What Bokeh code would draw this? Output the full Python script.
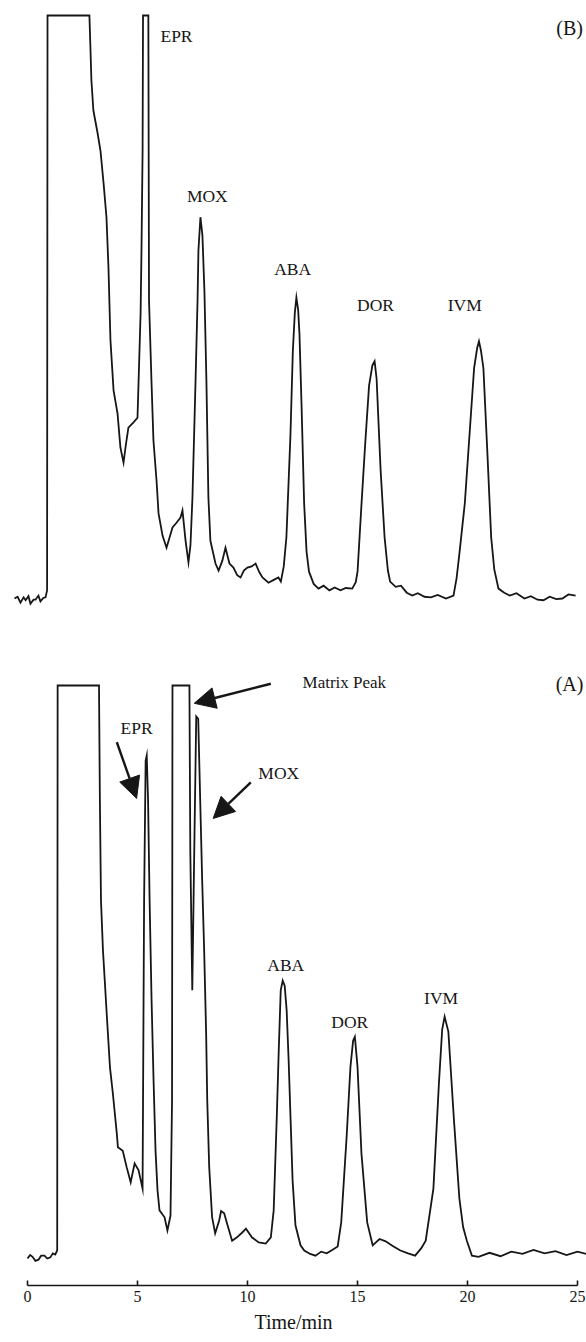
from bokeh.plotting import figure
from bokeh.layouts import column
from bokeh.models import Range1d, FixedTicker, Arrow, NormalHead, ColumnDataSource
from bokeh.core.properties import value
from bokeh.embed import file_html
from bokeh.resources import INLINE

# ---------------- Panel (B) ----------------
b_time = [0.00, 0.14, 0.27, 0.41, 0.50, 0.63, 0.72, 0.86, 0.95, 1.08, 1.17, 1.30, 1.40, 1.47, 1.49,
          3.38, 3.43, 3.47, 3.56, 3.75, 3.88, 4.02, 4.15, 4.24, 4.33, 4.47, 4.65, 4.78, 4.92, 5.03,
          5.14, 5.37, 5.55, 5.60, 5.69, 5.73, 5.78, 5.80, 6.04, 6.07, 6.18, 6.27, 6.41, 6.50, 6.68,
          6.86, 7.00, 7.13, 7.31, 7.49, 7.58, 7.72, 7.85, 7.94, 8.03, 8.17, 8.26, 8.30, 8.39, 8.48,
          8.57, 8.66, 8.75, 8.84, 9.07, 9.21, 9.38, 9.52, 9.70, 9.88, 10.05, 10.20, 10.35, 10.51,
          10.70, 10.88, 11.05, 11.19, 11.46, 11.70, 11.91, 12.02, 12.15, 12.27, 12.45, 12.56, 12.65,
          12.72, 12.80, 12.86, 12.95, 13.07, 13.18, 13.29, 13.50, 13.72, 13.95, 14.21, 14.45, 14.71,
          14.95, 15.24, 15.40, 15.48, 15.66, 15.83, 16.00, 16.15, 16.25, 16.34, 16.52, 16.70, 16.85,
          16.95, 17.20, 17.44, 17.70, 17.95, 18.20, 18.50, 18.79, 19.10, 19.47, 19.81, 19.95, 20.07,
          20.32, 20.58, 20.74, 20.88, 20.96, 21.05, 21.16, 21.34, 21.51, 21.65, 21.84, 22.10, 22.35,
          22.65, 23.01, 23.30, 23.60, 23.87, 24.15, 24.45, 24.72, 25.00, 25.32]
b_signal = [0.0, 0.3, -0.7, 0.2, -0.3, 0.4, -0.9, -0.2, -0.2, 0.5, -0.5, 0.1, 0.2, 1.4, 100,
            100, 94.0, 88.9, 83.7, 79.8, 76.8, 71.2, 65.4, 56.8, 44.3, 35.7, 31.7, 25.9, 23.3, 26.5,
            29.3, 30.2, 31.0, 37.4, 48.9, 59.7, 76.8, 100, 100, 51.1, 37.4, 27.1, 20.2, 14.6, 10.8,
            8.7, 10.5, 12.2, 13.0, 13.9, 15.1, 9.9, 6.2, 9.1, 17.3, 37.4, 51.1, 59.7, 65.4, 62.3,
            52.8, 37.4, 17.3, 9.9, 6.0, 4.8, 6.5, 8.7, 6.0, 5.3, 4.0, 3.6, 4.8, 5.3,
            5.5, 6.0, 4.5, 3.6, 2.7, 3.2, 3.6, 2.9, 5.5, 10.5, 27.8, 42.4, 49.0,
            51.6, 49.5, 45.3, 33.6, 16.3, 8.0, 4.6, 2.5, 1.7, 2.2, 1.4, 1.9, 1.4,
            1.8, 1.7, 2.8, 4.6, 16.3, 26.8, 36.5, 40.0, 40.7, 37.7, 22.1, 10.5, 4.8,
            2.9, 2.0, 2.2, 1.0, 0.5, 0.9, 0.3, 0.2, 0.6, 0.0, 0.5, 3.5, 7.5,
            16.3, 30.7, 39.5, 43.0, 44.1, 42.5, 39.5, 24.9, 10.5, 5.0, 1.7, 1.0, 0.5,
            0.9, 0.0, 0.4, -0.2, -0.3, 0.3, -0.1, 0.0, 0.7, 0.5]
b_label_text = ["EPR", "MOX", "ABA", "DOR", "IVM"]
b_label_t = [7.31, 8.70, 12.55, 16.29, 20.32]
b_label_v = [96.5, 69.1, 56.6, 50.3, 50.3]
b_panel_text = ["(B)"]
b_panel_t = [25.05]
b_panel_v = [97.8]

# ---------------- Panel (A) ----------------
a_time = [0.00, 0.12, 0.23, 0.36, 0.50, 0.62, 0.77, 0.90, 1.04, 1.15, 1.26, 1.35, 1.37,
          3.25, 3.29, 3.34, 3.43, 3.52, 3.61, 3.75, 3.88, 4.06, 4.11, 4.33, 4.51, 4.69, 4.87,
          5.05, 5.23, 5.30, 5.37, 5.42, 5.48, 5.55, 5.64, 5.73, 5.82, 5.91, 6.00, 6.23, 6.36,
          6.50, 6.57, 6.59, 7.36, 7.40, 7.49, 7.58, 7.67, 7.76, 7.85, 7.94, 8.03, 8.12, 8.17,
          8.26, 8.39, 8.53, 8.71, 8.80, 8.94, 9.07, 9.30, 9.52, 9.75, 9.93, 10.20, 10.51, 10.83,
          11.06, 11.19, 11.33, 11.42, 11.51, 11.60, 11.69, 11.78, 11.87, 11.96, 12.05, 12.18,
          12.41, 12.58, 12.85, 13.09, 13.35, 13.60, 13.85, 14.10, 14.26, 14.51, 14.68, 14.80,
          14.88, 15.00, 15.18, 15.44, 15.69, 16.00, 16.28, 16.60, 16.95, 17.30, 17.62, 17.90,
          18.10, 18.45, 18.70, 18.85, 18.96, 19.13, 19.38, 19.63, 19.80, 19.97, 20.20, 20.50,
          21.00, 21.50, 22.00, 22.50, 23.00, 23.50, 24.00, 24.50, 25.00, 25.40]
a_signal = [0.0, 0.6, 0.3, -0.4, -0.2, 0.5, 0.5, 0.0, 0.2, 0.9, 0.7, 1.4, 100,
            100, 80.0, 62.5, 53.8, 48.0, 42.1, 33.3, 28.8, 21.8, 19.4, 18.8, 15.9, 13.3, 16.6,
            15.4, 12.2, 62.5, 86.9, 87.8, 80.0, 62.5, 45.0, 31.1, 18.8, 11.9, 8.4, 7.2, 4.9,
            7.5, 27.6, 100, 100, 71.2, 46.8, 71.2, 94.6, 94.2, 80.0, 66.0, 53.8, 39.3, 27.6,
            15.9, 7.2, 4.4, 6.6, 8.3, 7.9, 6.1, 3.1, 3.7, 4.5, 5.2, 3.7, 2.8, 2.6,
            3.7, 8.4, 24.6, 36.3, 46.8, 48.5, 47.6, 43.3, 34.6, 24.1, 13.6, 5.8,
            2.3, 1.4, 0.8, 0.5, 1.2, 0.9, 1.5, 2.1, 6.3, 21.5, 33.5, 38.0,
            38.7, 33.5, 18.3, 6.3, 2.3, 3.4, 3.0, 2.2, 1.4, 0.9, 0.5, 1.8,
            3.1, 12.2, 30.5, 40.0, 42.2, 39.6, 24.4, 10.5, 5.5, 3.1, 0.5, 0.3,
            1.0, 0.4, 1.2, 0.8, 1.5, 0.9, 1.3, 0.6, 1.2, 0.8]
a_label_text = ["EPR", "MOX", "ABA", "DOR", "IVM"]
a_label_t = [4.96, 11.42, 11.74, 14.65, 18.80]
a_label_v = [92.5, 84.8, 51.3, 41.2, 45.5]
a_note_text = ["Matrix Peak"]
a_note_t = [14.40]
a_note_v = [100.5]
a_panel_text = ["(A)"]
a_panel_t = [24.64]
a_panel_v = [100.3]
a_arrow_t0 = [4.06, 11.06, 10.15]
a_arrow_v0 = [90.1, 100.3, 83.1]
a_arrow_t1 = [4.96, 7.58, 8.44]
a_arrow_v1 = [80.3, 96.9, 76.8]

x_ticks = [0, 5, 10, 15, 20, 25]
x_title = "Time/min"

FONT = value("Liberation Serif")
INK = "#161616"

# ---------------- figure (B) ----------------
pB = figure(width=586, height=632, output_backend="svg", toolbar_location=None,
            x_range=Range1d(-0.632, 25.812), y_range=Range1d(-5.83, 102.57),
            x_axis_location=None, y_axis_location=None, min_border=0,
            outline_line_color=None, background_fill_color="white", border_fill_color="white")
pB.grid.grid_line_color = None
pB.line(b_time, b_signal, line_color=INK, line_width=1.8, line_join="miter")
pB.text(b_label_t, b_label_v, text=b_label_text, text_font=FONT, text_font_size="17.5px",
        text_align="center", text_baseline="middle", text_color=INK)
pB.text(b_panel_t, b_panel_v, text=b_panel_text, text_font=FONT, text_font_size="20px",
        text_align="center", text_baseline="middle", text_color=INK)

# ---------------- figure (A) ----------------
pA = figure(width=586, height=709, output_backend="svg", toolbar_location=None,
            x_range=Range1d(-1.2273, 25.409), y_range=Range1d(-4.71, 109.25),
            y_axis_location=None, min_border=0, min_border_bottom=56,
            outline_line_color=None, background_fill_color="white", border_fill_color="white")
pA.grid.grid_line_color = None
pA.line(a_time, a_signal, line_color=INK, line_width=1.8, line_join="miter")
pA.text(a_label_t, a_label_v, text=a_label_text, text_font=FONT, text_font_size="17.5px",
        text_align="center", text_baseline="middle", text_color=INK)
pA.text(a_note_t, a_note_v, text=a_note_text, text_font=FONT, text_font_size="17px",
        text_align="center", text_baseline="middle", text_color=INK)
pA.text(a_panel_t, a_panel_v, text=a_panel_text, text_font=FONT, text_font_size="20px",
        text_align="center", text_baseline="middle", text_color=INK)

arrow_src = ColumnDataSource(dict(x0=a_arrow_t0, y0=a_arrow_v0, x1=a_arrow_t1, y1=a_arrow_v1))
pA.add_layout(Arrow(end=NormalHead(size=21, fill_color=INK, line_color=INK, line_width=1),
                    x_start="x0", y_start="y0", x_end="x1", y_end="y1", source=arrow_src,
                    line_color=INK, line_width=2.4))

ax = pA.xaxis[0]
ax.ticker = FixedTicker(ticks=x_ticks)
ax.bounds = (x_ticks[0], x_ticks[-1])
ax.axis_line_color = INK
ax.axis_line_width = 1.6
ax.major_tick_in = 5
ax.major_tick_out = 0
ax.major_tick_line_color = INK
ax.major_tick_line_width = 1.6
ax.minor_tick_line_color = None
ax.major_label_text_font = "Liberation Serif"
ax.major_label_text_font_size = "16px"
ax.major_label_text_color = INK
ax.major_label_standoff = 5
ax.axis_label = x_title
ax.axis_label_text_font = "Liberation Serif"
ax.axis_label_text_font_size = "20px"
ax.axis_label_text_font_style = "normal"
ax.axis_label_text_color = INK
ax.axis_label_standoff = 6

layout = column(pB, pA)
open("out.html", "w").write(file_html(layout, INLINE))
